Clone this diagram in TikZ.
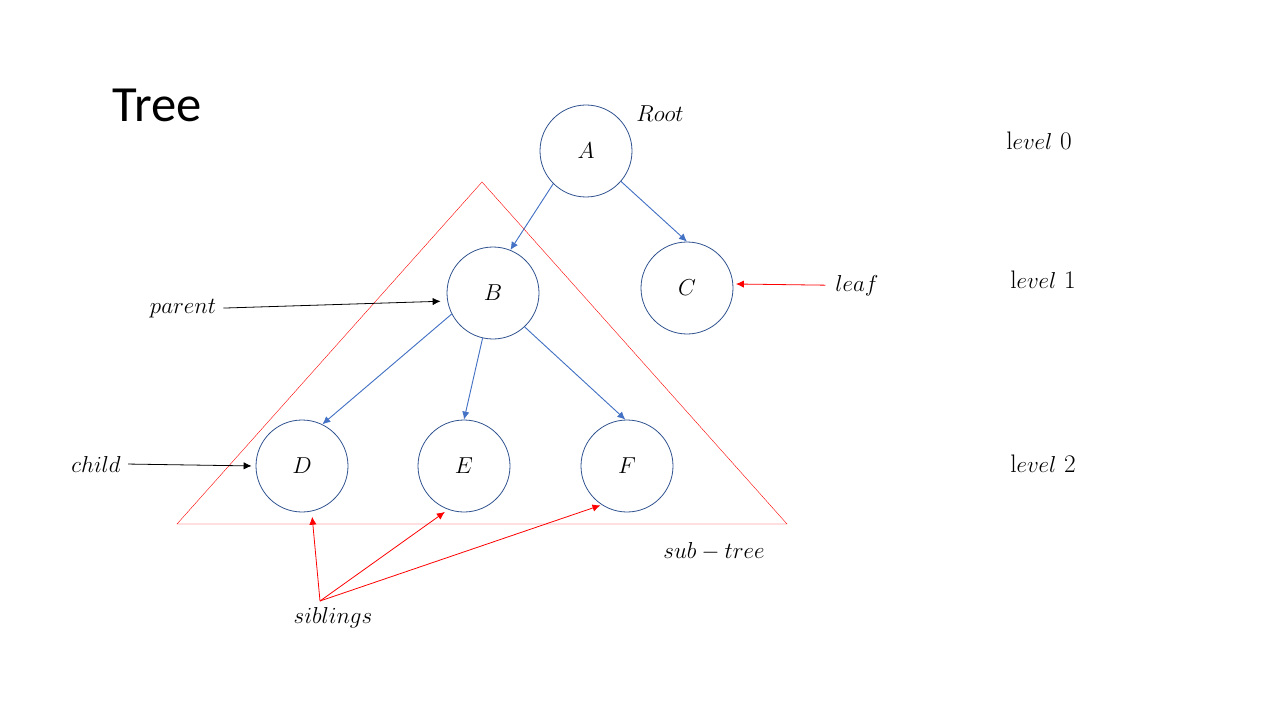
\documentclass[tikz,border=0pt]{standalone}
\usepackage{fontspec}
\newfontfamily\titlefont{Carlito}
\usetikzlibrary{arrows.meta}
\usetikzlibrary{positioning}
\definecolor{mblue}{RGB}{68,114,196}
\definecolor{cblue}{RGB}{47,82,143}
\tikzset{vertex/.style = {circle, draw=cblue, line width=0.6pt, minimum size=69pt, inner sep=0pt},
         edge/.style = {draw=mblue, line width=0.7pt, -{Latex[length=6pt, width=5.5pt]}},
         note/.style = {line width=0.6pt, -{Latex[length=6pt, width=5.5pt]}},
         lbl/.style = {anchor=base}}

\begin{document}
\begin{tikzpicture}[x=0.75pt, y=-0.75pt, font=\fontsize{19}{23}\selectfont]
      \useasboundingbox (0,0) rectangle (1280,720);
      \node (title) at (157,105) {\titlefont\fontsize{38}{45}\selectfont Tree};
      \draw [red, line width=0.3pt] (482,182) -- (177,524) -- (787,524) -- cycle;

      \node [vertex] (A) at (586,151) {$A$};
      \node [vertex] (B) at (493,293) {$B$};
      \node [vertex] (C) at (687,288) {$C$};
      \node [vertex] (D) at (302,466) {$D$};
      \node [vertex] (E) at (464,466) {$E$};
      \node [vertex] (F) at (627,466) {$F$};

      \draw [edge] (A.225) -- (B.68);
      \draw [edge] (A.319) -- (C.90);
      \draw [edge] (B.207) -- (D.64);
      \draw [edge] (B.257) -- (E.90);
      \draw [edge] (B.313) -- (F.92);

      \node [lbl] (root) at (660,122) {$Root$};
      \node [lbl] (lvl0) at (1039,150) {$\mathrm{l}evel$ 0};
      \node [lbl] (lvl1) at (1043,288) {$\mathrm{l}evel$ 1};
      \node [lbl] (lvl2) at (1043,472) {$\mathrm{l}evel$ 2};
      \node [lbl] (leaf) at (857,291) {$leaf$};
      \node [lbl] (parent) at (183,313) {$parent$};
      \node [lbl] (child) at (96,472) {$child$};
      \node [lbl] (subtree) at (714,558) {$sub-tree$};
      \node [lbl] (siblings) at (333,623) {$siblings$};
      \coordinate (sib) at (320,601);

      \draw [note, shorten <=2pt, shorten >=5pt] (parent.east) -- (B.190);
      \draw [note, shorten <=2pt, shorten >=3pt] (child.east) -- (D.west);
      \draw [note, red, shorten <=4pt, shorten >=2pt] (leaf.west) -- (C.5);
      \draw [note, red, shorten >=4pt] (sib) -- (D.282);
      \draw [note, red, shorten >=3pt] (sib) -- (E.250);
      \draw [note, red, shorten >=1pt] (sib) -- (F.237);
\end{tikzpicture}
\end{document}
